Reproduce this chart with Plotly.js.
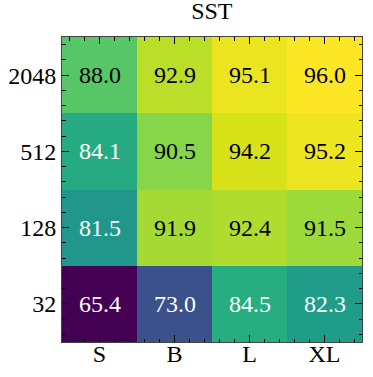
<!DOCTYPE html>
<html>
<head>
<meta charset="utf-8">
<script src="https://cdn.plot.ly/plotly-3.0.1.min.js"></script>
<style>
  html, body { margin: 0; padding: 0; background: #fff; }
  #chart { width: 373px; height: 377px; }
  #fontwarm { position: absolute; left: 0; top: 0; opacity: 0; font-family: 'Liberation Serif'; font-size: 24px; }
</style>
</head>
<body>
<span id="fontwarm">SST 0123456789.SBLX</span>
<div id="chart"></div>
<script>
// model sizes along x, sequence lengths along y (bottom to top)
const modelSizes = ['S', 'B', 'L', 'XL']
const seqLengths = ['32', '128', '512', '2048']

// accuracy per row, same order as seqLengths
const acc32 = [65.4, 73.0, 84.5, 82.3]
const acc128 = [81.5, 91.9, 92.4, 91.5]
const acc512 = [84.1, 90.5, 94.2, 95.2]
const acc2048 = [88.0, 92.9, 95.1, 96.0]

const zRows = [acc32, acc128, acc512, acc2048]
const xIdx = modelSizes.map((_, i) => i)
const yIdx = seqLengths.map((_, i) => i)

// cells darker than this get white labels
const whiteBelow = 86

const serif = 'Liberation Serif'

const annotations = []
zRows.forEach((row, j) => {
  row.forEach((v, i) => {
    annotations.push({
      x: i, y: j, xref: 'x', yref: 'y',
      text: v.toFixed(1),
      showarrow: false,
      font: { family: serif, size: 24, color: v < whiteBelow ? '#ffffff' : '#000000' }
    })
  })
})

const trace = {
  type: 'heatmap',
  x: xIdx,
  y: yIdx,
  z: zRows,
  colorscale: 'Viridis',
  showscale: false,
  hoverinfo: 'skip'
}

const axisCommon = {
  range: [-0.5, 3.5],
  showgrid: false,
  zeroline: false,
  showline: true,
  linecolor: '#444',
  linewidth: 1,
  mirror: 'ticks',
  layer: 'above traces',
  ticks: 'inside',
  ticklen: 7,
  tickwidth: 1.2,
  tickcolor: '#000',
  tickfont: { family: serif, size: 24, color: '#000' },
  minor: { tick0: 0, dtick: 0.2, ticks: 'inside', ticklen: 3.5, tickwidth: 1, tickcolor: '#000' }
}

const layout = {
  width: 373,
  height: 377,
  margin: { l: 62, r: 11, t: 37, b: 35 },
  paper_bgcolor: '#fff',
  plot_bgcolor: '#fff',
  title: {
    text: 'SST',
    font: { family: serif, size: 24, color: '#000' },
    x: 0.568, xanchor: 'center',
    y: 0.995, yanchor: 'top'
  },
  xaxis: Object.assign({}, axisCommon, {
    tickvals: xIdx, ticktext: modelSizes, ticklabelstandoff: -10
  }),
  yaxis: Object.assign({}, axisCommon, {
    tickvals: yIdx, ticktext: seqLengths
  }),
  annotations: annotations
}

const draw = () => {
  Plotly.newPlot('chart', [trace], layout, { displayModeBar: false }).then(() => {
    // nudge a repaint once the serif face is in use
    document.getElementById('fontwarm').textContent = ''
  })
}

if (document.fonts && document.fonts.load) {
  document.fonts.load('24px "Liberation Serif"').then(draw, draw)
} else {
  draw()
}
</script>
</body>
</html>
